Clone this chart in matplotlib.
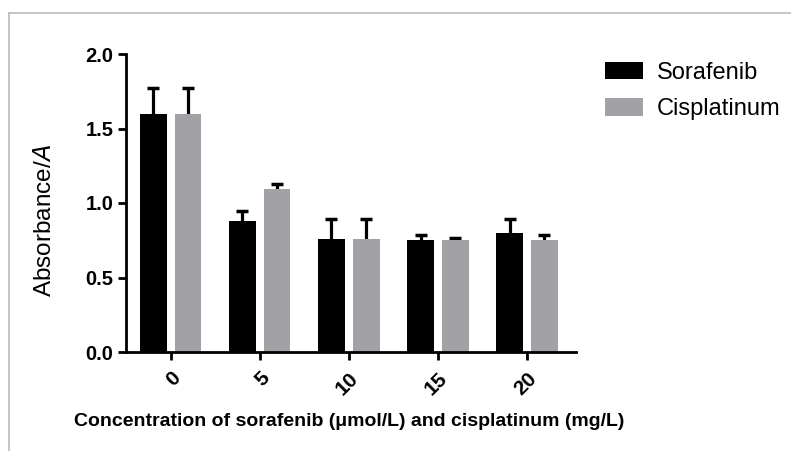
import matplotlib
matplotlib.use("Agg")
import matplotlib.pyplot as plt
import numpy as np
from matplotlib.lines import Line2D

categories = ["0", "5", "10", "15", "20"]
sorafenib = [1.60, 0.88, 0.76, 0.75, 0.80]
sorafenib_err = [0.17, 0.065, 0.13, 0.035, 0.095]
cisplatinum = [1.60, 1.095, 0.76, 0.75, 0.75]
cisplatinum_err = [0.17, 0.035, 0.13, 0.012, 0.033]
yticks = [0.0, 0.5, 1.0, 1.5, 2.0]

plt.rcParams['font.family'] = ['Liberation Sans', 'DejaVu Sans']

W, H = 791, 451
fig = plt.figure(figsize=(W / 100, H / 100), dpi=100)
ax = fig.add_axes([126 / W, 1 - 352 / H, (576 - 126) / W, (352 - 54) / H])

x = np.arange(len(categories))
bw = 0.30
off = 0.195
black = "#000000"
gray = "#a2a2a6"

ax.bar(x - off, sorafenib, bw, color=black, label="Sorafenib", zorder=3)
ax.bar(x + off, cisplatinum, bw, color=gray, label="Cisplatinum", zorder=3)
ax.errorbar(x - off, sorafenib, yerr=sorafenib_err, fmt='none',
            ecolor='black', elinewidth=2.3, capsize=4.5, capthick=2.5, zorder=2)
ax.errorbar(x + off, cisplatinum, yerr=cisplatinum_err, fmt='none',
            ecolor='black', elinewidth=2.3, capsize=4.5, capthick=2.5, zorder=2)

ax.set_xlim(-0.5, 4.55)
ax.set_ylim(0, 2.0)
ax.set_yticks(yticks)
ax.set_yticklabels([f"{v:.1f}" for v in yticks], fontsize=14.5, fontweight='bold')
ax.set_xticks(x)
ax.set_xticklabels(categories, fontsize=15, fontweight='bold', rotation=45,
                   ha='right', va='top', rotation_mode='anchor')

for s in ['top', 'right']:
    ax.spines[s].set_visible(False)
for s in ['left', 'bottom']:
    ax.spines[s].set_linewidth(2)
ax.spines['left'].set_zorder(4)
ax.spines['bottom'].set_zorder(4)
ax.tick_params(axis='both', width=2, length=6, direction='out', pad=3)
ax.tick_params(axis='x', pad=6)

fig.text(45 / W, 1 - 220 / H, r"Absorbance/$\mathit{A}$", rotation=90,
         ha='center', va='center', fontsize=17.5)
fig.text(349 / W, 1 - 421 / H,
         "Concentration of sorafenib (\u03bcmol/L) and cisplatinum (mg/L)",
         ha='center', va='center', fontsize=14, fontweight='bold')

fig.legend(loc='upper left', bbox_to_anchor=(605 / W, 1 - 62 / H), frameon=False,
           fontsize=17, handlelength=1.6, handleheight=0.75, handletextpad=0.6,
           labelspacing=0.6, borderpad=0, borderaxespad=0)

# image border lines
fig.add_artist(Line2D([9 / W, 1], [1 - 13 / H, 1 - 13 / H], transform=fig.transFigure,
                      color='#bbbbbb', lw=1.2))
fig.add_artist(Line2D([9 / W, 9 / W], [0, 1 - 13 / H], transform=fig.transFigure,
                      color='#bbbbbb', lw=1.2))

fig.savefig("out.png", dpi=100)
